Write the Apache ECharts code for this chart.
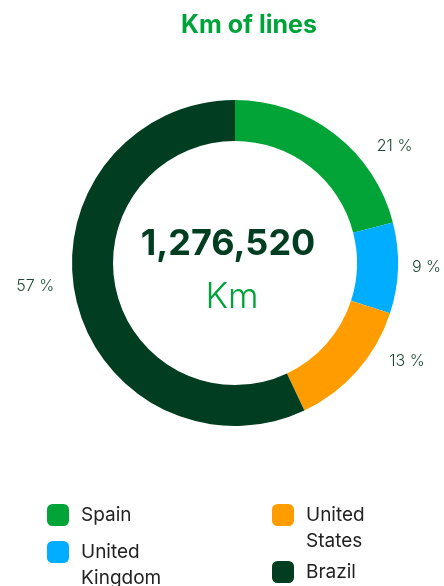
<!DOCTYPE html>
<html>
<head>
<meta charset="utf-8">
<script src="https://cdn.jsdelivr.net/npm/echarts@6/dist/echarts.min.js"></script>
<style>
  html, body { margin: 0; padding: 0; background: #fff; }
  #chart { width: 444px; height: 586px; }
</style>
</head>
<body>
<div id="chart"></div>
<script>
// 数据
const countries = ['Spain', 'United Kingdom', 'United States', 'Brazil'];
const shares = [21, 9, 13, 57];
const colors = ['#02a437', '#00adff', '#ff9d00', '#003d21'];
const totalKm = '1,276,520';

// 布局常量
const CX = 235, CY = 263;
const FONT = 'Inter, "Noto Sans", sans-serif';

const chart = echarts.init(document.getElementById('chart'));

// 标签位置：按扇区中线角度放在外侧椭圆上
const sum = shares.reduce((a, b) => a + b, 0);
function labelPos(idx) {
  let before = 0;
  for (let i = 0; i < idx; i++) before += shares[i];
  const mid = (before + shares[idx] / 2) / sum * 2 * Math.PI;
  const s = Math.sin(mid), c = Math.cos(mid);
  const right = s >= 0;
  return {
    x: CX + (right ? 1 : -1) * (86 + 91 * Math.abs(s)) - (right ? 0 : 6),
    y: CY - 148 * c - (right ? 0 : 9),
    align: right ? 'left' : 'right'
  };
}

// 图例：每项一个组件，两行文字时首行与色块对齐
function legendItem(i, left, iconTop) {
  const twoLines = countries[i].indexOf(' ') > 0;
  return {
    data: [countries[i]],
    left: left,
    top: twoLines ? iconTop - 28 : iconTop - 2,
    padding: 0,
    orient: 'vertical',
    icon: 'roundRect',
    itemWidth: 22,
    itemHeight: 22,
    itemGap: 0,
    itemStyle: { borderWidth: 0 },
    selectedMode: false,
    formatter: name => name.indexOf(' ') > 0 ? '\n' + name.replace(' ', '\n') : name,
    textStyle: {
      fontFamily: FONT,
      fontSize: 19,
      color: '#222',
      lineHeight: 26,
      padding: [0, 0, 0, 7]
    }
  };
}

const option = {
  backgroundColor: '#fff',
  animation: false,
  title: {
    text: 'Km of lines',
    left: 176,
    top: 8,
    textStyle: {
      fontFamily: FONT,
      fontSize: 25,
      fontWeight: 'bold',
      color: '#00a33a'
    }
  },
  legend: [
    legendItem(0, 47, 504),
    legendItem(1, 47, 541),
    legendItem(2, 272, 504),
    legendItem(3, 272, 561)
  ],
  graphic: [
    {
      type: 'text',
      x: 228, y: 244,
      style: {
        text: totalKm,
        align: 'center',
        verticalAlign: 'middle',
        fontFamily: FONT,
        fontSize: 36,
        fontWeight: 'bold',
        fill: '#003d21'
      }
    },
    {
      type: 'text',
      x: 232, y: 297,
      style: {
        text: 'Km',
        align: 'center',
        verticalAlign: 'middle',
        fontFamily: FONT,
        fontSize: 35,
        fontWeight: 300,
        fill: '#00a33a'
      }
    }
  ],
  series: [{
    type: 'pie',
    center: [CX, CY],
    radius: [122, 163],
    startAngle: 90,
    clockwise: true,
    avoidLabelOverlap: false,
    data: countries.map((name, i) => ({
      name: name,
      value: shares[i],
      itemStyle: { color: colors[i] }
    })),
    label: {
      show: true,
      position: 'outside',
      formatter: p => p.value + ' %',
      fontFamily: FONT,
      fontSize: 16,
      fontWeight: 300,
      color: '#1d4a35'
    },
    labelLine: { show: false },
    labelLayout: p => {
      const pos = labelPos(p.dataIndex);
      return { x: pos.x, y: pos.y, align: pos.align, verticalAlign: 'middle' };
    },
    emphasis: { disabled: true }
  }]
};

chart.setOption(option);
</script>
</body>
</html>
